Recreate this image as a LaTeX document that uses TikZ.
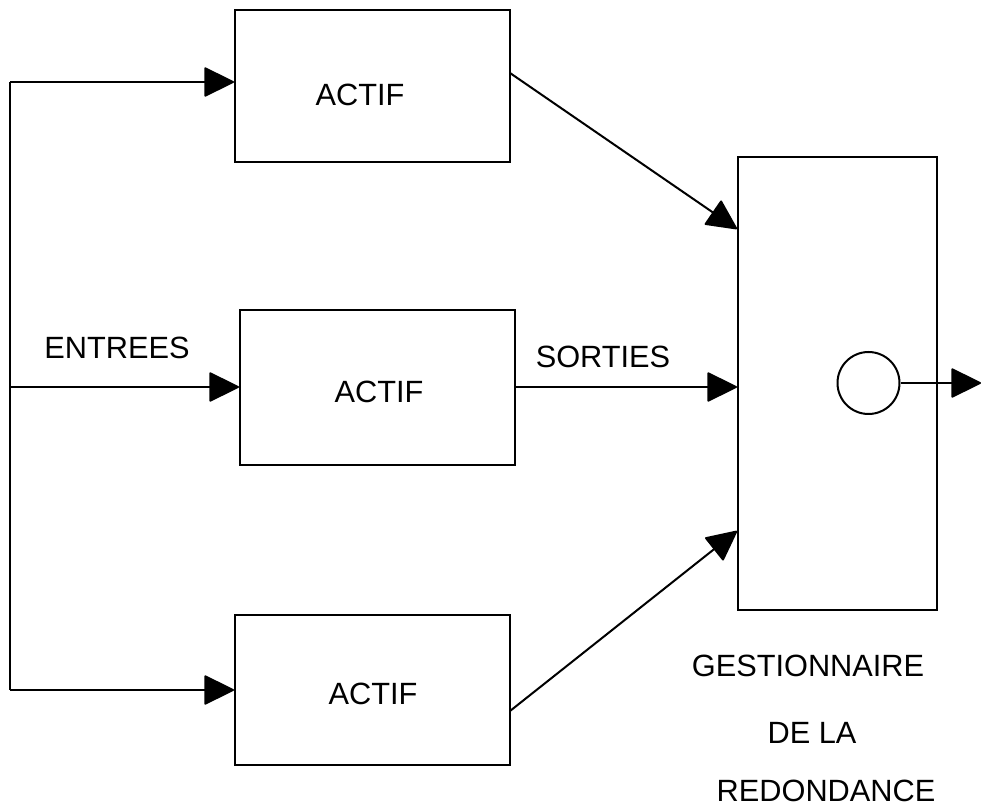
\documentclass[tikz,border=0pt]{standalone}
\usepackage{fontspec}
\setmainfont{Liberation Sans}
\usetikzlibrary{arrows.meta}
\begin{document}
\begin{tikzpicture}[x=0.02cm,y=-0.02cm,
  line width=0.04cm,
  blockbox/.style={draw, rectangle, inner sep=0pt},
  lbl/.style={font=\fontsize{17.5}{20}\selectfont, inner sep=0pt},
  flow/.style={-{Triangle[length=0.62cm,width=0.6cm,round]}}]
\useasboundingbox (0,0) rectangle (981,807);
% processing units
\node[blockbox, minimum width=275*0.02cm, minimum height=152*0.02cm] (a1) at (372.5,86) {};
\node[blockbox, minimum width=275*0.02cm, minimum height=155*0.02cm] (a2) at (377.5,387.5) {};
\node[blockbox, minimum width=275*0.02cm, minimum height=150*0.02cm] (a3) at (372.5,690) {};
\node[lbl] at (360,95) {ACTIF};
\node[lbl] at (379,392) {ACTIF};
\node[lbl] at (373,694) {ACTIF};
% redundancy manager
\node[blockbox, minimum width=199*0.02cm, minimum height=453*0.02cm] (g) at (837.5,383.5) {};
\node[draw, circle, minimum size=62*0.02cm, inner sep=0pt] (c) at (868.5,383) {};
\coordinate (out) at (981,383);
% inputs
\coordinate (top) at (10,82);
\coordinate (mid) at (10,387);
\coordinate (bot) at (10,690);
\draw (top) -- (bot);
\draw[flow] (top) -- (a1.west |- top);
\draw[flow] (mid) -- (a2.west |- mid);
\draw[flow] (bot) -- (a3.west |- bot);
% outputs
\coordinate (o1) at (510,73);
\coordinate (o3) at (510,711);
\coordinate (i1) at (737,229);
\coordinate (i3) at (737,531);
\draw[flow] (o1) -- (i1);
\draw[flow] (a2.east |- mid) -- (g.west |- mid);
\draw[flow] (o3) -- (i3);
\draw[flow] (c.east) -- (out);
% labels
\node[lbl] (entrees) at (117,348) {ENTREES};
\node[lbl] (sorties) at (603,357) {SORTIES};
\node[lbl] at (808,666) {GESTIONNAIRE};
\node[lbl] at (812,733) {DE LA};
\node[lbl] at (826,791) {REDONDANCE};
\end{tikzpicture}
\end{document}
